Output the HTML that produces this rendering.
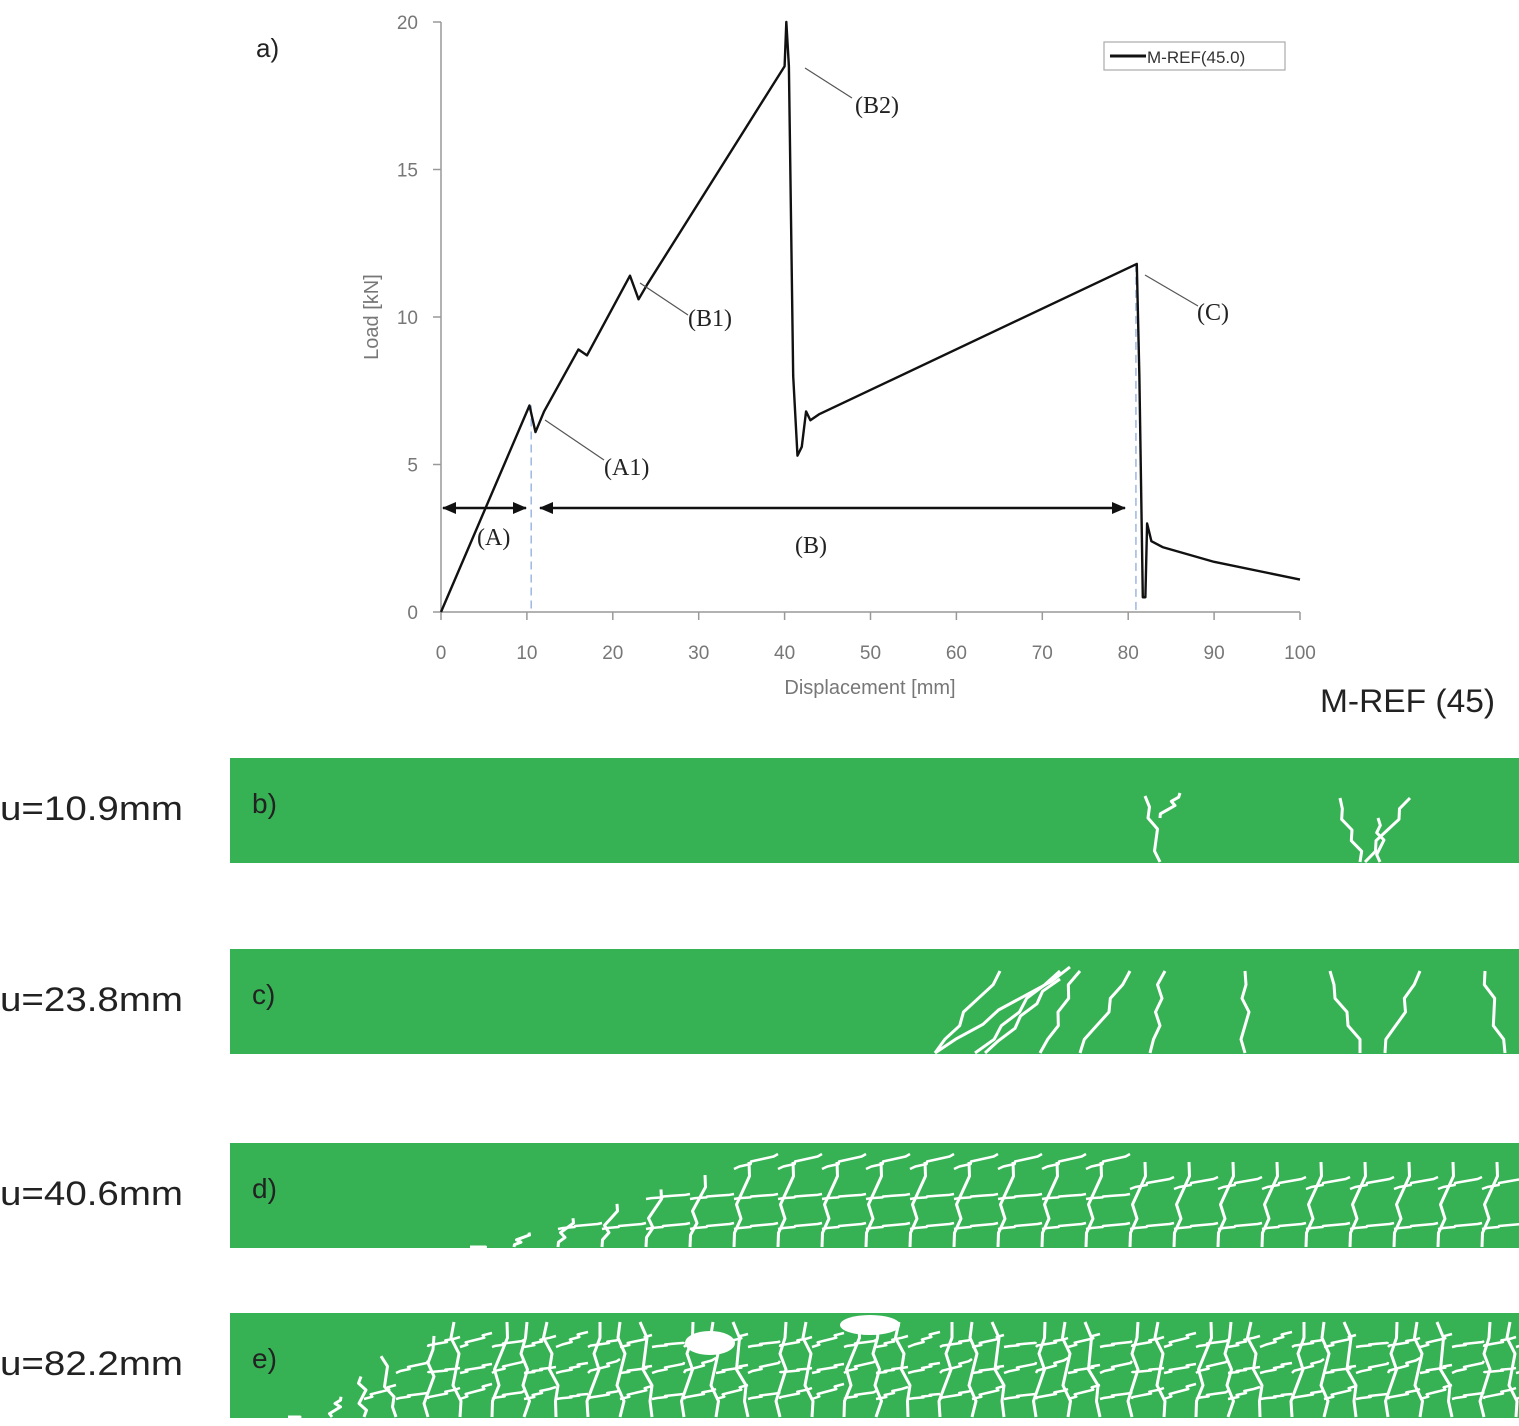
<!DOCTYPE html>
<html><head><meta charset="utf-8"><style>
body{margin:0;background:#fff;width:1519px;height:1421px;overflow:hidden;font-family:"Liberation Sans",sans-serif}
</style></head><body>
<svg id="svg" width="1519" height="1421" xmlns="http://www.w3.org/2000/svg">
<g id="chart"></g>
<g id="panels"></g>
</svg>
<script>
const xTicks=[0,10,20,30,40,50,60,70,80,90,100];
const yTicks=[0,5,10,15,20];
const disp=[0,10.3,11,12,16,17,22,23,24,40,40.2,40.5,41,41.5,42,42.5,43,44,81,81.3,81.7,82,82.2,82.7,84,90,100];
const load=[0,7.0,6.1,6.8,8.9,8.7,11.4,10.6,11.1,18.5,20,18.5,8,5.3,5.6,6.8,6.5,6.7,11.8,8,0.5,0.5,3.0,2.4,2.2,1.7,1.1];
const NS='http://www.w3.org/2000/svg';
const X=v=>441+v*8.59, Y=v=>612-v*29.5;
const chart=document.getElementById('chart'), panels=document.getElementById('panels');
function mk(tag,attrs,parent,text){const e=document.createElementNS(NS,tag);for(const k in attrs)e.setAttribute(k,attrs[k]);if(text!==undefined)e.textContent=text;parent.appendChild(e);return e;}
let ax=mk('line',{x1:441,y1:22,x2:441,y2:612,stroke:'#999','stroke-width':1.5},chart);


let bx=mk('line',{x1:441,y1:612,x2:1300,y2:612,stroke:'#999','stroke-width':1.5},chart);


xTicks.forEach(t=>{
 mk('line',{x1:X(t),y1:612,x2:X(t),y2:620,stroke:'#999','stroke-width':1.5},chart);
 const l=mk('text',{x:X(t),y:659,'text-anchor':'middle','font-size':19,fill:'#777'},chart,String(t));
 
 
});
yTicks.forEach(t=>{
 mk('line',{x1:433,y1:Y(t),x2:441,y2:Y(t),stroke:'#999','stroke-width':1.5},chart);
 const l=mk('text',{x:418,y:Y(t)+7,'text-anchor':'end','font-size':19,fill:'#777'},chart,String(t));
 
 
});
let xt=mk('text',{x:870,y:694,'text-anchor':'middle','font-size':20,fill:'#777'},chart,'Displacement [mm]');


let yt=mk('text',{x:378,y:317,'text-anchor':'middle','font-size':20,fill:'#777',transform:'rotate(-90 378 317)'},chart,'Load [kN]');


[[10.5,7],[80.9,11.8]].forEach(p=>{const d=mk('line',{x1:X(p[0]),y1:Y(p[1]),x2:X(p[0]),y2:612,stroke:'#9bb8e0','stroke-width':1.5,'stroke-dasharray':'8 5'},chart);

});
let pts=disp.map((d,i)=>X(d)+','+Y(load[i])).join(' ');
let cv=mk('polyline',{points:pts,fill:'none',stroke:'#111','stroke-width':2.4,'stroke-linejoin':'round'},chart);


mk('defs',{},chart).innerHTML='<marker id="ah" markerUnits="userSpaceOnUse" markerWidth="14" markerHeight="12" refX="13" refY="6" orient="auto-start-reverse"><path d="M0,0 L14,6 L0,12 Z" fill="#111"/></marker>';
[[441,528],[538,1127]].forEach(a=>{const l=mk('line',{x1:a[0]+2,y1:508,x2:a[1]-2,y2:508,stroke:'#111','stroke-width':2.5,'marker-start':'url(#ah)','marker-end':'url(#ah)'},chart);

});
const ann=[['(B2)',855,113,805,68,852,98],['(B1)',688,326,640,283,688,315],['(A1)',604,475,545,420,604,460],['(C)',1197,320,1145,275,1198,306],['(A)',477,545],['(B)',795,553]];
ann.forEach(a=>{
 if(a.length>3){const l=mk('line',{x1:a[3],y1:a[4],x2:a[5],y2:a[6],stroke:'#555','stroke-width':1.2},chart);}
 const t=mk('text',{x:a[1],y:a[2],'font-family':'Liberation Serif, serif','font-size':24,fill:'#222'},chart,a[0]);
 
 
});
let lg=mk('g',{},chart);


mk('rect',{x:1104,y:42,width:181,height:28,fill:'#fff',stroke:'#aaa','stroke-width':1.2},lg);
mk('line',{x1:1110,y1:56,x2:1146,y2:56,stroke:'#111','stroke-width':3},lg);
mk('text',{x:1147,y:63,'font-size':17,fill:'#333'},lg,'M-REF(45.0)');
let al=mk('text',{x:256,y:57,'font-size':26,fill:'#222'},chart,'a)');


let mt=mk('text',{x:1320,y:712,'font-size':32,fill:'#222',textLength:175,lengthAdjust:'spacingAndGlyphs'},chart,'M-REF (45)');



const panelTops=[758,949,1143,1313];
const panelLabels=['b)','c)','d)','e)'];
const uLabels=['u=10.9mm','u=23.8mm','u=40.6mm','u=82.2mm'];
function jig(i){return ((i*37)%11)-5;}
function crack(g,x0,y0,x1,y1,w){let d='M'+x0+','+y0;const n=6;for(let i=1;i<=n;i++){const x=x0+(x1-x0)*i/n+(i<n?jig(i+x0):0),y=y0+(y1-y0)*i/n;d+=' L'+x+','+y;}mk('path',{d:d,stroke:'#fff','stroke-width':w||3,fill:'none','stroke-linejoin':'round'},g);}
panelTops.forEach((top,k)=>{
 const g=mk('g',{},panels);
 
 
 mk('rect',{x:230,y:top,width:1289,height:105,fill:'#36b254'},g);
 mk('text',{x:252,y:top+55,'font-size':28,fill:'#222'},g,panelLabels[k]);
 const ul=mk('text',{x:0,y:top+62,'font-size':34,fill:'#222',textLength:183,lengthAdjust:'spacingAndGlyphs'},panels,uLabels[k]);
 
 
 const bot=top+104;
 if(k===0){
  crack(g,1160,bot,1145,top+38);crack(g,1160,top+60,1180,top+35);
  crack(g,1360,bot,1340,top+40);crack(g,1365,bot,1410,top+40);crack(g,1380,bot,1378,top+60);
 } else if(k===1){
  [[935,1000],[975,1060],[1040,1080],[1080,1130],[1150,1165],[1245,1245],[1360,1330],[1385,1420],[1505,1485]].forEach(c=>crack(g,c[0],bot,c[1],top+22));
  crack(g,935,bot,1070,top+18);crack(g,985,bot,1060,top+30);
 } else {
  const start=k===2?470:300;
  const step=k===2?44:32;
  for(let x=start;x<1519;x+=step){
   const tf=Math.max(0,Math.min(1,(x-start)/(k===2?260:150)));
   const yTop=bot-tf*(k===2?85:95);
   crack(g,x,bot,x+jig(x)*3,yTop,3);
   const gap=k===2?(x>1100?40:30):26;
   for(let yy=bot-18;yy>yTop+5;yy-=gap){crack(g,x,yy,x+step,yy-10+jig(yy+x),2.5);}
  }
  if(k===3){mk('ellipse',{cx:710,cy:top+30,rx:25,ry:12,fill:'#fff'},g);mk('ellipse',{cx:870,cy:top+12,rx:30,ry:10,fill:'#fff'},g);}
 }
});
</script>
</body></html>
